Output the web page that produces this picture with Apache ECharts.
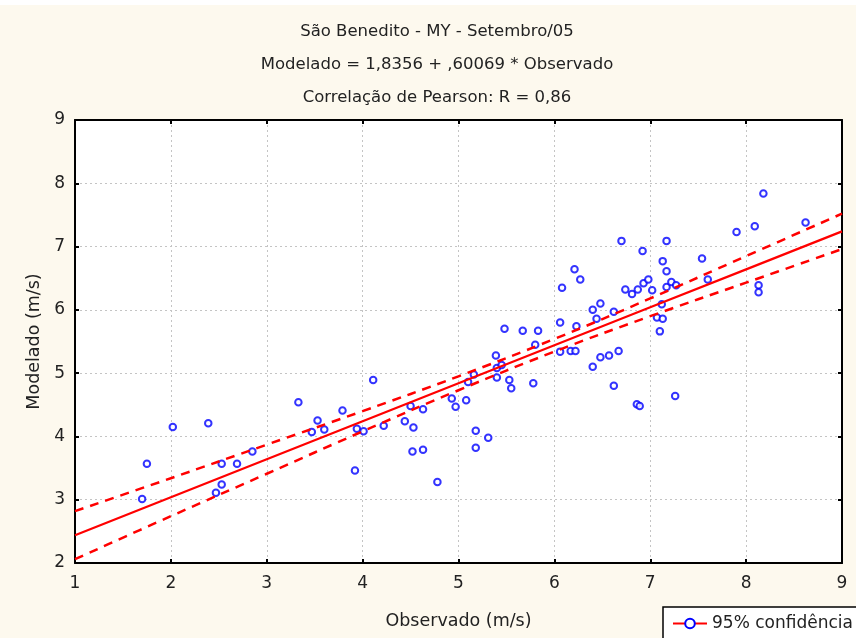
<!DOCTYPE html>
<html>
<head>
<meta charset="utf-8">
<script src="https://cdn.jsdelivr.net/npm/echarts@6/dist/echarts.min.js"></script>
<style>
html,body{margin:0;padding:0;background:#FDF9EE;}
#chart{width:856px;height:638px;}
</style>
</head>
<body>
<div id="chart"></div>
<script>
var obsX = [1.70,1.75,2.02,2.39,2.47,2.53,2.53,2.69,2.85,3.33,3.47,3.53,3.60,3.79,3.92,3.94,4.01,4.11,4.22,4.44,4.50,4.53,4.52,4.63,4.63,4.78,4.93,4.97,5.08,5.10,5.16,5.18,5.18,5.31,5.39,5.40,5.40,5.45,5.53,5.55,5.78,5.80,6.06,6.17,6.22,5.48,5.67,5.83,6.06,6.70,7.17,6.92,7.13,7.17,7.54,6.21,6.27,6.08,6.74,6.81,6.87,6.93,6.98,7.02,7.17,7.22,7.27,7.60,6.48,6.40,6.62,6.44,7.12,7.07,7.13,7.10,6.23,6.48,6.57,6.67,6.40,6.62,7.26,6.86,6.89,8.18,8.62,8.09,7.90,8.13,8.13];
var modY = [3.01,3.57,4.15,4.21,3.11,3.24,3.57,3.57,3.76,4.54,4.07,4.25,4.11,4.41,3.46,4.12,4.08,4.89,4.17,4.24,4.48,4.14,3.76,3.79,4.43,3.28,4.60,4.47,4.57,4.86,4.98,4.09,3.82,3.98,5.28,5.08,4.93,5.13,4.89,4.76,4.84,5.45,5.34,5.35,5.35,5.70,5.67,5.67,5.80,7.09,7.09,6.93,6.77,6.61,6.81,6.64,6.48,6.35,6.32,6.25,6.32,6.42,6.48,6.31,6.36,6.44,6.39,6.48,6.10,6.00,5.97,5.86,6.09,5.88,5.86,5.66,5.74,5.25,5.28,5.35,5.10,4.80,4.64,4.51,4.48,7.84,7.38,7.32,7.23,6.39,6.28];

// Regression line and 95% confidence band, read at integer x
var lineX  = [1, 2, 3, 4, 5, 6, 7, 8, 9];
var fitY   = [2.44, 3.04, 3.64, 4.24, 4.84, 5.44, 6.04, 6.64, 7.24];
var upperY = [2.82, 3.34, 3.87, 4.40, 4.95, 5.54, 6.18, 6.85, 7.52];
var lowerY = [2.06, 2.74, 3.41, 4.08, 4.73, 5.34, 5.90, 6.43, 6.96];

var titleLines = ['São Benedito - MY - Setembro/05', 'Modelado = 1,8356 + ,60069 * Observado', 'Correlação de Pearson: R = 0,86'];
var xName = 'Observado (m/s)';
var yName = 'Modelado (m/s)';
var legendName = '95% confidência';

function pairs(xs, ys){ return xs.map(function(x,i){ return [x, ys[i]]; }); }

var FONT = 'DejaVu Sans';
var TXT = '#222';
var chart = echarts.init(document.getElementById('chart'));
var axisCommon = {
  min: 1, max: 9, interval: 1,
  axisLine: {show: true, onZero: false, lineStyle: {color: '#000', width: 2}},
  axisTick: {show: true, inside: true, length: 4, lineStyle: {color: '#000', width: 2}},
  axisLabel: {fontFamily: FONT, fontSize: 17, color: TXT, margin: 10},
  splitLine: {show: true, lineStyle: {color: '#c4c4c4', type: [2, 3], width: 1}}
};
chart.setOption({
  backgroundColor: '#FDF9EE',
  animation: false,
  title: titleLines.map(function(t, i){
    return {text: t, left: 432, textAlign: 'center', top: [18, 51, 84][i],
      textStyle: {fontFamily: FONT, fontSize: 16.5, fontWeight: 'normal', color: TXT}};
  }),
  graphic: [{type: 'rect', shape: {x: 0, y: 0, width: 856, height: 5}, style: {fill: '#fff'}, silent: true}],
  grid: {left: 75, right: 14, top: 120, bottom: 75, show: true, backgroundColor: '#fff', borderWidth: 0},
  legend: {
    data: [legendName], left: 663, top: 607,
    padding: [8, 40, 20, 9], itemWidth: 34, itemHeight: 12, itemGap: 5,
    backgroundColor: '#fff', borderColor: '#000', borderWidth: 1.5, borderRadius: 0,
    textStyle: {fontFamily: FONT, fontSize: 17, color: TXT}
  },
  xAxis: [
    Object.assign({}, axisCommon, {type: 'value', position: 'bottom', name: xName, nameLocation: 'middle', nameGap: 49,
      axisLabel: {fontFamily: FONT, fontSize: 17, color: TXT, margin: 12},
      nameTextStyle: {fontFamily: FONT, fontSize: 17.5, color: TXT}}),
    Object.assign({}, axisCommon, {type: 'value', position: 'top', axisLabel: {show: false}, splitLine: {show: false}})
  ],
  yAxis: [
    Object.assign({}, axisCommon, {type: 'value', min: 2, max: 9, position: 'left', name: yName, nameLocation: 'middle', nameGap: 31,
      nameTextStyle: {fontFamily: FONT, fontSize: 17.5, color: TXT}}),
    Object.assign({}, axisCommon, {type: 'value', min: 2, max: 9, position: 'right', axisLabel: {show: false}, splitLine: {show: false}})
  ],
  series: [
    {type: 'scatter', data: pairs(obsX, modY), symbol: 'emptyCircle', symbolSize: 6.5,
      itemStyle: {color: '#0000ff', borderColor: '#0000ff', borderWidth: 1.5}, z: 3},
    {type: 'line', data: pairs(lineX, fitY), showSymbol: false, symbol: 'none',
      lineStyle: {color: '#ff0000', width: 2.2}, z: 4},
    {type: 'line', data: pairs(lineX, upperY), showSymbol: false, symbol: 'none', smooth: 0.4,
      lineStyle: {color: '#ff0000', width: 2.5, type: [9, 7]}, z: 4},
    {type: 'line', data: pairs(lineX, lowerY), showSymbol: false, symbol: 'none', smooth: 0.4,
      lineStyle: {color: '#ff0000', width: 2.5, type: [9, 7]}, z: 4},
    {type: 'line', name: legendName, data: [], symbol: 'emptyCircle', symbolSize: 7,
      itemStyle: {color: '#0000ff', borderColor: '#0000ff'}, lineStyle: {color: '#ff0000', width: 2.5}}
  ]
});
</script>
</body>
</html>
